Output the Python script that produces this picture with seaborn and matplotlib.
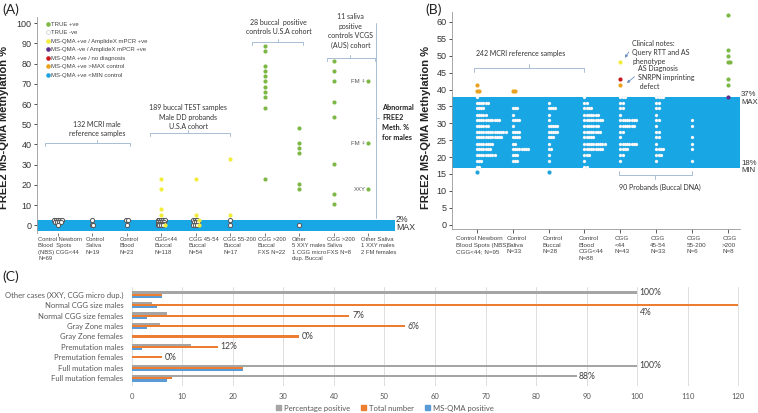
import numpy as np
import pandas as pd
import matplotlib
matplotlib.use("Agg")
import matplotlib.pyplot as plt
import seaborn as sns
from matplotlib.lines import Line2D
from matplotlib.patches import Patch

sns.set_theme(style="white")
plt.rcParams["font.family"] = ["Liberation Sans", "DejaVu Sans"]

# ------------------------------------------------------------------ data
# Panel A
a_labels = ["Control Newborn\nBlood  Spots\n(NBS) CGG<44\nN=69", "Control\nSaliva\nN=19",
            "Control\nBlood\nN=23", "CGG<44\nBuccal\nN=118", "CGG 45-54\nBuccal\nN=54",
            "CGG 55-200\nBuccal\nN=17", "CGG >200\nBuccal\nFXS N=22",
            "Other\n5 XXY males\n1 CGG micro\ndup. Buccal", "CGG >200\nSaliva\nFXS N=8",
            "Other Saliva\n1 XXY males\n2 FM females"]
a_neg_nbs = [2.6, 2.6, 2.6, 2.6, 2.6, 1.8, 1.8, 1.8, 1.8, 0.0]
a_neg_saliva = [2.6, 0.0, 0.0]
a_neg_blood = [2.6, 2.6, 0.0]
a_neg_cgg44 = [2.6, 2.6, 2.6, 2.6, 2.6, 1.8, 1.8, 1.8, 1.8, 0.9, 0.9, 0.9, 0.9, 0.0, 0.0, 0.0, 0.0]
a_neg_cgg4554 = [2.6, 2.6, 2.6, 1.5, 1.5, 1.5, 0.0, 0.0, 0.0]
a_neg_cgg55200 = [2.6, 0.0]
a_neg_other = [0.0]
a_yel_cgg44 = [23.1, 17.8, 7.9, 5.3, 0.0]
a_yel_cgg4554 = [23.1, 5.3, 2.6, 0.0]
a_yel_cgg55200 = [33.0, 5.3]
a_pos_cgg200_buccal = [88.9, 86.4, 78.9, 76.2, 73.7, 71.2, 68.5, 66.0, 63.5, 58.2, 23.0]
a_pos_other = [48.3, 40.9, 38.3, 35.6, 20.6, 18.0]
a_pos_cgg200_saliva = [81.3, 76.2, 71.3, 61.0, 53.5, 30.5, 15.5, 10.4]
a_pos_other_saliva = [71.3, 40.7, 17.8]
a_other_saliva_notes = ["FM \u2640", "FM \u2640", "XXY"]

# Panel B
b_labels = ["Control Newborn\nBlood Spots (NBS)\nCGG<44; N=95", "Control\nSaliva\nN=33",
            "Control\nBuccal\nN=28", "Control\nBlood\nCGG<44\nN=88", "CGG\n<44\nN=43",
            "CGG\n45-54\nN=33", "CGG\n55-200\nN=6", "CGG\n>200\nN=8"]
b_rows = [37.8, 36.1, 34.4, 32.6, 30.9, 29.2, 27.5, 25.8, 24.0, 22.3, 20.6, 18.9, 17.2]
b_cnt_nbs = [1, 6, 4, 5, 11, 6, 14, 12, 8, 7, 9, 3, 2]
b_cnt_saliva = [0, 0, 3, 1, 4, 1, 4, 4, 2, 8, 3, 3, 0]
b_cnt_buccal = [0, 1, 4, 1, 1, 5, 5, 3, 1, 2, 1, 1, 0]
b_cnt_blood = [1, 2, 4, 7, 9, 7, 8, 5, 10, 9, 3, 1, 2]
b_cnt_cgg44 = [3, 2, 2, 1, 8, 7, 2, 1, 8, 4, 2, 1, 0]
b_cnt_cgg4554 = [4, 2, 2, 1, 2, 1, 2, 2, 1, 4, 3, 1, 0]
b_cnt_cgg55200 = [0, 0, 0, 0, 1, 1, 0, 1, 1, 1, 0, 1, 0]
b_cnt_cgg200 = [0] * 13
b_orange_nbs = [41.2, 39.5, 39.5]
b_orange_saliva = [39.5, 39.5]
b_orange_cgg44 = [41.2]
b_blue_nbs = [15.5]
b_blue_buccal = [15.5]
b_yellow_cgg44 = [48.2]
b_red_cgg44 = [43.0]
b_green_cgg200 = [62.0, 51.7, 49.8, 48.2, 48.2, 43.0, 41.2]
b_purple_cgg200 = [37.8]

# Panel C
c_groups = ["Other cases (XXY, CGG micro dup.)", "Normal CGG size males", "Normal CGG size females",
            "Gray Zone males", "Gray Zone females", "Premutation males", "Premutation females",
            "Full mutation males", "Full mutation females"]
c_pct_positive = [100, 4, 7, 5.5, 0, 11.7, 0, 100, 88]
c_total = [6, 120, 43, 54, 33, 17, 6, 22, 8]
c_msqma_pos = [6, 5, 3, 3, 0, 2, 0, 22, 7]
c_pct_text = ["100%", "4%", "7%", "6%", "0%", "12%", "0%", "100%", "88%"]
c_series = ["Percentage positive", "Total number", "MS-QMA positive"]

# ------------------------------------------------------------------ styles
col = {"TRUE +ve": "#7db846", "TRUE -ve": "#ffffff",
       "MS-QMA +ve / AmplideX mPCR +ve": "#f2ec3a",
       "MS-QMA -ve / AmplideX mPCR +ve": "#5e2d8c",
       "MS-QMA +ve / no diagnosis": "#c9181e",
       "MS-QMA +ve >MAX control": "#eba21e",
       "MS-QMA +ve <MIN control": "#1ea3dd"}
band = "#19a6e4"
brk = "#a9bfd6"
txt = "#333333"
cal = ["Lato", "DejaVu Sans"]

fig = plt.figure(figsize=(7.58, 4.13), dpi=100)
W, H = 758, 413


def px_axes(l, t, r, b):
    return fig.add_axes([l / W, 1 - b / H, (r - l) / W, (b - t) / H])


def cat_labels(ax, labels, first_dx, other_dx, dy, size):
    ax.set_xticks(range(len(labels)))
    ax.set_xticklabels([])
    for k, lab in enumerate(labels):
        ax.annotate(lab, xy=(k, 0), xycoords=("data", "axes fraction"),
                    xytext=((first_dx if k == 0 else other_dx) * 0.72, -dy * 0.72),
                    textcoords="offset points", ha="left", va="top", fontsize=size,
                    color="#444444", linespacing=1.35, annotation_clip=False)


# ================================================================== Panel A
axA = px_axes(37, 17, 395, 233)
rows = []
neg_lists = [a_neg_nbs, a_neg_saliva, a_neg_blood, a_neg_cgg44, a_neg_cgg4554, a_neg_cgg55200,
             None, a_neg_other, None, None]
for i, lst in enumerate(neg_lists):
    if lst:
        rows += [(i, v, "TRUE -ve") for v in lst]
for i, lst in [(3, a_yel_cgg44), (4, a_yel_cgg4554), (5, a_yel_cgg55200)]:
    rows += [(i, v, "MS-QMA +ve / AmplideX mPCR +ve") for v in lst]
for i, lst in [(6, a_pos_cgg200_buccal), (7, a_pos_other), (8, a_pos_cgg200_saliva),
               (9, a_pos_other_saliva)]:
    rows += [(i, v, "TRUE +ve") for v in lst]
dfA = pd.DataFrame(rows, columns=["cat", "value", "status"])
dfA["slot"] = dfA.groupby(["cat", "value"]).cumcount()
dfA["n"] = dfA.groupby(["cat", "value"])["value"].transform("size")
dfA["x"] = dfA["cat"] + (dfA["slot"] - (dfA["n"] - 1) / 2) * 0.055

axA.axhspan(-2.7, 2.6, color=band, zorder=0, lw=0)
for st, sub in dfA.groupby("status", sort=False):
    neg = st == "TRUE -ve"
    sns.scatterplot(data=sub, x="x", y="value", ax=axA, color=col[st], s=9,
                    edgecolor="#555555" if neg else col[st],
                    linewidth=0.7 if neg else 0, zorder=3, legend=False)

axA.set_xlim(-0.61, 9.785)
axA.set_ylim(-3.8, 103.1)
axA.set_yticks(range(0, 101, 10))
cat_labels(axA, a_labels, -20, -7, 4, 4.2)
axA.tick_params(axis="y", labelsize=6.5, colors="#333333", length=2.5, width=0.6, pad=1.5, left=True)
axA.tick_params(axis="x", length=2, width=0.5, bottom=True, colors="#444444")
axA.set_xlabel("")
axA.set_ylabel("FREE2 MS-QMA Methylation %", fontsize=8, fontweight="bold", color="#222222")
axA.yaxis.set_label_coords(-0.077, 0.49)
for s in ["top", "right", "bottom"]:
    axA.spines[s].set_visible(False)
axA.spines["left"].set_color("#999999")
axA.spines["left"].set_linewidth(0.6)
axA.grid(False)


def hbracket(ax, x0, x1, y, xc, up=True, h=1.5, lw=0.7):
    d = -h if up else h
    ax.plot([x0, x0, x1, x1], [y + d, y, y, y + d], color=brk, lw=lw, clip_on=False, zorder=1)
    ax.plot([xc, xc], [y, y - d], color=brk, lw=lw, clip_on=False, zorder=1)


hbracket(axA, -0.38, 2.09, 40.7, 1.13)
axA.text(1.13, 47.8, "132 MCRI male\nreference samples", fontsize=5, ha="center", va="center",
         color=txt, linespacing=1.4, family=cal)
hbracket(axA, 2.67, 5.0, 45.6, 3.78)
axA.text(3.78, 53.5, "189 buccal TEST samples\nMale DD probands\nU.S.A cohort", fontsize=5,
         ha="center", va="center", color=txt, linespacing=1.4, family=cal)
hbracket(axA, 5.64, 7.12, 90.9, 6.4)
axA.text(6.4, 98.2, "28 buccal  positive\ncontrols U.S.A cohort", fontsize=5, ha="center",
         va="center", color=txt, linespacing=1.4, family=cal)
hbracket(axA, 7.82, 9.21, 82.7, 8.49)
axA.text(8.49, 96.1, "11 saliva\npositive\ncontrols VCGS\n(AUS) cohort", fontsize=5,
         ha="center", va="center", color=txt, linespacing=1.4, clip_on=False, family=cal)
axA.plot([9.24, 9.24], [3.5, 100], color=brk, lw=0.7, zorder=1)
axA.plot([9.24, 9.33], [53, 53], color=brk, lw=0.7, zorder=1)
axA.text(9.42, 51, "Abnormal\nFREE2\nMeth. %\nfor males", fontsize=5.2, fontweight="bold",
         ha="left", va="center", color="#222222", linespacing=1.5, clip_on=False, family=cal)
for v, lab in zip(a_pos_other_saliva, a_other_saliva_notes):
    axA.text(8.93, v, lab, fontsize=4.3, ha="right", va="center", color="#555555",
             family=["Liberation Sans", "DejaVu Sans"])
axA.text(9.81, 1.0, "2%\nMAX", fontsize=6.3, ha="left", va="center", color="#333333",
         clip_on=False, linespacing=0.85)

handles = [Line2D([], [], marker="o", ls="", markersize=2.8, markerfacecolor=c,
                  markeredgecolor="#bbbbbb" if k == "TRUE -ve" else c, markeredgewidth=0.4)
           for k, c in col.items()]
legA = axA.legend(handles, list(col.keys()), loc="upper left", bbox_to_anchor=(0.015, 0.995),
                  fontsize=4.3, frameon=False, handlelength=0.6, handletextpad=0.3,
                  labelspacing=0.55, borderaxespad=0.2)
for t in legA.get_texts():
    t.set_color("#444444")

# ================================================================== Panel B
axB = px_axes(452.3, 11.8, 740, 229.4)
rowsB = []
for i, cnts in enumerate([b_cnt_nbs, b_cnt_saliva, b_cnt_buccal, b_cnt_blood, b_cnt_cgg44,
                          b_cnt_cgg4554, b_cnt_cgg55200, b_cnt_cgg200]):
    for r, c in zip(b_rows, cnts):
        rowsB += [(i, r, "TRUE -ve")] * c
extras = [(0, b_orange_nbs, "MS-QMA +ve >MAX control"), (1, b_orange_saliva, "MS-QMA +ve >MAX control"),
          (4, b_orange_cgg44, "MS-QMA +ve >MAX control"), (0, b_blue_nbs, "MS-QMA +ve <MIN control"),
          (2, b_blue_buccal, "MS-QMA +ve <MIN control"),
          (4, b_yellow_cgg44, "MS-QMA +ve / AmplideX mPCR +ve"),
          (4, b_red_cgg44, "MS-QMA +ve / no diagnosis"), (7, b_green_cgg200, "TRUE +ve"),
          (7, b_purple_cgg200, "MS-QMA -ve / AmplideX mPCR +ve")]
for i, lst, st in extras:
    rowsB += [(i, v, st) for v in lst]
dfB = pd.DataFrame(rowsB, columns=["cat", "value", "status"])
dfB["slot"] = dfB.groupby(["cat", "value"]).cumcount()
dfB["x"] = dfB["cat"] + dfB["slot"] * 0.062

axB.axhspan(16.9, 37.9, color=band, zorder=0, lw=0)
for st, sub in dfB.groupby("status", sort=False):
    white = st == "TRUE -ve"
    sns.scatterplot(data=sub, x="x", y="value", ax=axB, color=col[st], s=4.8 if white else 9,
                    edgecolor="#e6e6e6" if white else col[st], linewidth=0.2 if white else 0,
                    zorder=3, legend=False)
axB.set_xlim(-0.68, 7.33)
axB.set_ylim(-1.4, 63)
axB.set_yticks(range(0, 61, 5))
cat_labels(axB, b_labels, -21, -6, 7, 4.5)
axB.tick_params(axis="y", labelsize=6.5, colors="#333333", length=2.5, width=0.6, pad=1.5, left=True)
axB.tick_params(axis="x", length=3, width=0.6, bottom=True, colors="#444444")
axB.set_xlabel("")
axB.set_ylabel("FREE2 MS-QMA Methylation %", fontsize=8, fontweight="bold", color="#222222")
axB.yaxis.set_label_coords(-0.074, 0.47)
for s in ["top", "right"]:
    axB.spines[s].set_visible(False)
for s in ["left", "bottom"]:
    axB.spines[s].set_color("#999999")
    axB.spines[s].set_linewidth(0.6)
axB.grid(False)

hbracket(axB, -0.07, 2.99, 46.3, 1.46, h=1.2)
axB.text(1.21, 50.7, "242 MCRI reference samples", fontsize=5, ha="center", va="center",
         color=txt, family=cal)
hbracket(axB, 3.97, 6.0, 14.7, 4.97, up=False, h=1.2)
axB.text(5.1, 10.9, "90 Probands (Buccal DNA)", fontsize=5, ha="center", va="center",
         color=txt, family=cal)
axB.text(4.33, 51.0, "Clinical notes:\nQuery RTT and AS\nphenotype", fontsize=5, ha="left",
         va="center", color=txt, linespacing=1.35, family=cal)
axB.text(4.5, 43.5, "AS Diagnosis\nSNRPN imprinting\n defect", fontsize=5, ha="left",
         va="center", color=txt, linespacing=1.35, family=cal)
axB.annotate("", xy=(4.08, 48.7), xytext=(4.28, 51.8),
             arrowprops=dict(arrowstyle="-|>", color="#6a8fc0", lw=0.6, mutation_scale=4))
axB.annotate("", xy=(4.12, 41.4), xytext=(4.45, 44.3),
             arrowprops=dict(arrowstyle="-|>", color="#6a8fc0", lw=0.6, mutation_scale=4))
axB.text(7.36, 37.3, "37%\nMAX", fontsize=5.6, ha="left", va="center", color="#333333",
         clip_on=False, linespacing=1.1)
axB.text(7.36, 17.0, "18%\nMIN", fontsize=5.6, ha="left", va="center", color="#333333",
         clip_on=False, linespacing=1.1)

# ================================================================== Panel C
axC = px_axes(131.7, 287, 743.4, 386)
dfC = pd.DataFrame({"group": c_groups * 3,
                    "series": np.repeat(c_series, len(c_groups)),
                    "value": c_pct_positive + c_total + c_msqma_pos})
c_pal = {"Percentage positive": "#a5a5a5", "Total number": "#ed7d31", "MS-QMA positive": "#5b9bd5"}
sns.barplot(data=dfC, y="group", x="value", hue="series", hue_order=c_series, palette=c_pal,
            orient="h", width=0.62, saturation=1, ax=axC, legend=False, order=c_groups,
            edgecolor="none", linewidth=0)
axC.set_xlim(0, 121)
axC.set_ylim(8.74, -0.74)
axC.set_xticks(range(0, 121, 10))
axC.xaxis.grid(True, color="#d9d9d9", lw=0.6)
axC.yaxis.grid(False)
axC.set_axisbelow(True)
for s in axC.spines.values():
    s.set_visible(False)
axC.set_xlabel("")
axC.set_ylabel("")
axC.tick_params(axis="x", labelsize=5.5, colors="#595959", length=0, pad=5)
axC.tick_params(axis="y", labelsize=5.5, colors="#595959", length=0, pad=6)
for t in axC.get_xticklabels() + axC.get_yticklabels():
    t.set_family(cal)
for i, (g, o, lab) in enumerate(zip(c_pct_positive, c_total, c_pct_text)):
    if o > 105:
        xx, yy = 100.5, i + 0.7
    elif g >= o:
        xx, yy = g + 0.4, i - 0.2
    else:
        xx, yy = o + 0.6, i
    axC.text(xx, yy, lab, fontsize=6.2, ha="left", va="center", color="#404040", family=cal)

legC = fig.legend([Patch(color=c_pal[s]) for s in c_series], c_series, loc="center",
                  bbox_to_anchor=(0.508, 0.012), ncol=3, fontsize=5.5, frameon=False,
                  handlelength=0.6, handleheight=0.6, handletextpad=0.4, columnspacing=1.5)
for t in legC.get_texts():
    t.set_color("#595959")
    t.set_family(cal)

# panel letters
for x, y, s in [(2, 10, "(A)"), (425, 10, "(B)"), (2, 277, "(C)")]:
    fig.text(x / W, 1 - y / H, s, fontsize=10, ha="left", va="center", color="#222222", family=cal)

fig.savefig("out.png", dpi=100)
